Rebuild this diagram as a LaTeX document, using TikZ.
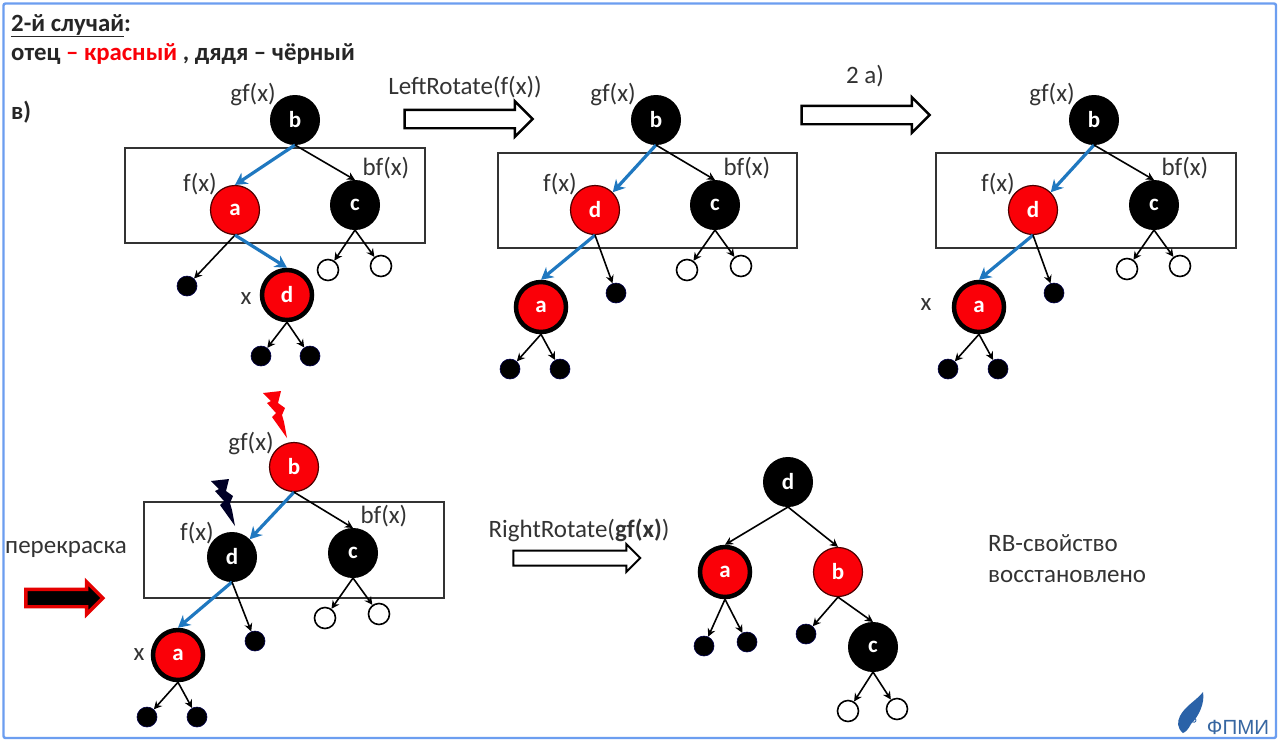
\documentclass[tikz,border=0pt]{standalone}
\usepackage{fontspec}
\setmainfont{Carlito}
\setsansfont{Liberation Sans}
\usetikzlibrary{shapes.arrows,arrows.meta}
\definecolor{frameblue}{HTML}{6C9EF0}
\definecolor{edgeblue}{HTML}{1F78C0}
\definecolor{nodered}{HTML}{FA0008}
\definecolor{inkgrey}{HTML}{333333}
\definecolor{logoblue}{HTML}{2A62A8}
\tikzset{
  x=1pt,y=-1pt,
  blacknode/.style={circle,fill=black,draw=black,line width=1pt,minimum size=49pt,inner sep=0pt,text=white,font=\fontsize{23}{24}\bfseries\selectfont},
  rednode/.style={blacknode,fill=nodered,draw=black!70!red,line width=1.2pt},
  xnode/.style={rednode,draw=black,line width=4.5pt,minimum size=50pt},
  blackleaf/.style={circle,fill=black,draw=black!70!blue,line width=.6pt,minimum size=20pt,inner sep=0pt},
  whiteleaf/.style={circle,fill=white,draw=black,line width=1.6pt,minimum size=21pt,inner sep=0pt},
  blackedge/.style={draw=black,line width=1.6pt,-{Stealth[length=8pt,width=8pt]}},
  blueedge/.style={draw=edgeblue,line width=3.2pt,-{Stealth[length=12pt,width=13pt]}},
  groupbox/.style={draw=inkgrey,line width=1.3pt,fill=none},
  lbl/.style={inner sep=0pt,text=inkgrey,font=\fontsize{25}{28}\selectfont},
  headtxt/.style={anchor=base west,inner sep=0pt,font=\fontsize{24.8}{28}\bfseries\selectfont,text=black!85},
  hollowarrow/.style={single arrow,draw=black,fill=white,line width=2.4pt,inner xsep=0pt,inner ysep=8pt,single arrow head extend=8.5pt},
}
\newcommand{\boltshape}[3]{% dx dy colour
  \fill[#3,shift={(#1,#2)}] (263,393)--(281,391)--(278,403)--(285,408)--(282,415)--(284,422)--(287,438)--(272,417)--(276,413)--(267,403)--(271,401)--cycle;}
\begin{document}
\begin{tikzpicture}
\useasboundingbox (0,0) rectangle (1280,748);
\fill[white] (0,0) rectangle (1280,748);
\draw[frameblue,line width=2.4pt,rounded corners=2pt] (3.5,3.5) rectangle (1276,738);

% heading
\node[headtxt] (h1) at (11,31) {\underline{2-й случай}:};
\node[headtxt] (h2) at (11,60) {отец \textcolor{nodered}{– красный} , дядя – чёрный};
\node[headtxt] (h3) at (11,119) {в)};

% tree 1
\draw[groupbox] (125,148) rectangle (425,243);
\node[blacknode] (b1) at (295,120) {b};
\node[rednode] (a1) at (235,210) {a};
\node[blacknode] (c1) at (355,205) {c};
\node[xnode] (d1) at (287,295) {d};
\node[blackleaf] (p1) at (187,286) {};
\node[whiteleaf] (q1) at (328,270) {};
\node[whiteleaf] (r1) at (381,266) {};
\node[blackleaf] (s1) at (261,356) {};
\node[blackleaf] (t1) at (310,356) {};
\path[blueedge] (b1.south) -- (a1.north);
\path[blackedge] (b1.south) -- (c1.north);
\path[blackedge] (a1.south) -- (p1);
\path[blueedge] (a1.south) -- (d1.north);
\path[blackedge] (c1.south) -- (q1);
\path[blackedge] (c1.south) -- (r1);
\path[blackedge] (d1.south) -- (s1);
\path[blackedge] (d1.south) -- (t1);
\node[lbl] (g1) at (253,94) {gf(x)};
\node[lbl] (f1) at (200,184) {f(x)};
\node[lbl] (u1) at (386,168) {bf(x)};
\node[lbl] (x1) at (246,299) {x};

% arrow 1
\node[lbl] (la) at (465,87) {LeftRotate(f(x))};
\node[hollowarrow,minimum height=128pt] (ar1) at (464,119) {};

% tree 2
\draw[groupbox] (498,153) rectangle (797,248);
\node[blacknode] (b2) at (656,120) {b};
\node[rednode] (d2) at (595,210) {d};
\node[blacknode] (c2) at (715,205) {c};
\node[xnode] (a2) at (541,307) {a};
\node[blackleaf] (p2) at (616,293) {};
\node[whiteleaf] (q2) at (687,270) {};
\node[whiteleaf] (r2) at (741,266) {};
\node[blackleaf] (s2) at (510,369) {};
\node[blackleaf] (t2) at (560,369) {};
\path[blueedge] (b2.south) -- (d2.north east);
\path[blackedge] (b2.south) -- (c2.north);
\path[blueedge] (d2.south) -- (a2.north);
\path[blackedge] (d2.south) -- (p2);
\path[blackedge] (c2.south) -- (q2);
\path[blackedge] (c2.south) -- (r2);
\path[blackedge] (a2.south) -- (s2);
\path[blackedge] (a2.south) -- (t2);
\node[lbl] (g2) at (613,94) {gf(x)};
\node[lbl] (f2) at (560,184) {f(x)};
\node[lbl] (u2) at (747,168) {bf(x)};

% arrow 2
\node[lbl] (lb) at (865,76) {2 а)};
\node[hollowarrow,minimum height=128pt] (ar2) at (861,115) {};

% tree 3
\draw[groupbox] (936,153) rectangle (1236,248);
\node[blacknode] (b3) at (1094,120) {b};
\node[rednode] (d3) at (1033,210) {d};
\node[blacknode] (c3) at (1154,205) {c};
\node[xnode] (a3) at (979,307) {a};
\node[blackleaf] (p3) at (1054,293) {};
\node[whiteleaf] (q3) at (1127,269) {};
\node[whiteleaf] (r3) at (1180,266) {};
\node[blackleaf] (s3) at (948,369) {};
\node[blackleaf] (t3) at (998,369) {};
\path[blueedge] (b3.south) -- (d3.north east);
\path[blackedge] (b3.south) -- (c3.north);
\path[blueedge] (d3.south) -- (a3.north);
\path[blackedge] (d3.south) -- (p3);
\path[blackedge] (c3.south) -- (q3);
\path[blackedge] (c3.south) -- (r3);
\path[blackedge] (a3.south) -- (s3);
\path[blackedge] (a3.south) -- (t3);
\node[lbl] (g3) at (1052,94) {gf(x)};
\node[lbl] (f3) at (998,184) {f(x)};
\node[lbl] (u3) at (1185,168) {bf(x)};
\node[lbl] (x3) at (926,305) {x};

% repaint
\node[lbl] (lc) at (66,549) {перекраска};
\node[single arrow,draw=red!90!black,fill=black,line width=3.4pt,inner xsep=0pt,inner ysep=7pt,single arrow head extend=7.5pt,minimum height=77pt] (ar3) at (60,598) {};

% tree 4
\draw[groupbox] (144,502) rectangle (444,598);
\node[rednode] (b4) at (294,467) {b};
\node[blacknode] (d4) at (232,557) {d};
\node[blacknode] (c4) at (353,553) {c};
\node[xnode] (a4) at (178,655) {a};
\node[blackleaf] (p4) at (255,641) {};
\node[whiteleaf] (q4) at (325,618) {};
\node[whiteleaf] (r4) at (379,614) {};
\node[blackleaf] (s4) at (147,717) {};
\node[blackleaf] (t4) at (197,717) {};
\path[blueedge] (b4.south) -- (d4.north east);
\path[blackedge] (b4.south) -- (c4.north);
\path[blueedge] (d4.south) -- (a4.north);
\path[blackedge] (d4.south) -- (p4);
\path[blackedge] (c4.south) -- (q4);
\path[blackedge] (c4.south) -- (r4);
\path[blackedge] (a4.south) -- (s4);
\path[blackedge] (a4.south) -- (t4);
\node[lbl] (g4) at (251,443) {gf(x)};
\node[lbl] (f4) at (197,533) {f(x)};
\node[lbl] (u4) at (384,516) {bf(x)};
\node[lbl] (x4) at (139,655) {x};
\boltshape{0}{0}{nodered}
\boltshape{-52}{88}{black!85!blue}

% arrow 4
\node[lbl] (ld) at (579,530) {RightRotate(\textbf{gf(x)})};
\node[hollowarrow,line width=2pt,inner ysep=6.5pt,single arrow head extend=6.5pt,minimum height=127pt] (ar4) at (573,558) {};

% tree 5
\node[blacknode] (d5) at (788,482) {d};
\node[xnode] (a5) at (725,572) {a};
\node[rednode] (b5) at (838,572) {b};
\node[blacknode] (c5) at (873,647) {c};
\node[blackleaf] (p5) at (704,646) {};
\node[blackleaf] (q5) at (747,642) {};
\node[blackleaf] (r5) at (806,634) {};
\node[whiteleaf] (s5) at (848,711) {};
\node[whiteleaf] (t5) at (897,709) {};
\path[blackedge] (d5.south) -- (a5.north);
\path[blackedge] (d5.south) -- (b5.north);
\path[blackedge] (a5.south) -- (p5);
\path[blackedge] (a5.south) -- (q5);
\path[blackedge] (b5.south) -- (r5);
\path[blackedge] (b5.south) -- (c5.north);
\path[blackedge] (c5.south) -- (s5);
\path[blackedge] (c5.south) -- (t5);

% result text
\node[lbl,anchor=base west] (re1) at (988,551) {RB-свойство};
\node[lbl,anchor=base west] (re2) at (988,582) {восстановлено};

% logo
\fill[logoblue] (1203,692) .. controls (1205,703) and (1199,716) .. (1191,724) .. controls (1189,728) and (1186,732) .. (1183,733) .. controls (1177,728) and (1177,722) .. (1180,716) .. controls (1185,706) and (1197,700) .. (1203,692) -- cycle;
\draw[logoblue,line width=.8pt] (1193,722) arc (120:-60:2);
\node[inner sep=0pt,text=logoblue!85!gray,font=\sffamily\fontsize{20.5}{22}\selectfont] (lg) at (1238,727) {ФПМИ};
\end{tikzpicture}
\end{document}
